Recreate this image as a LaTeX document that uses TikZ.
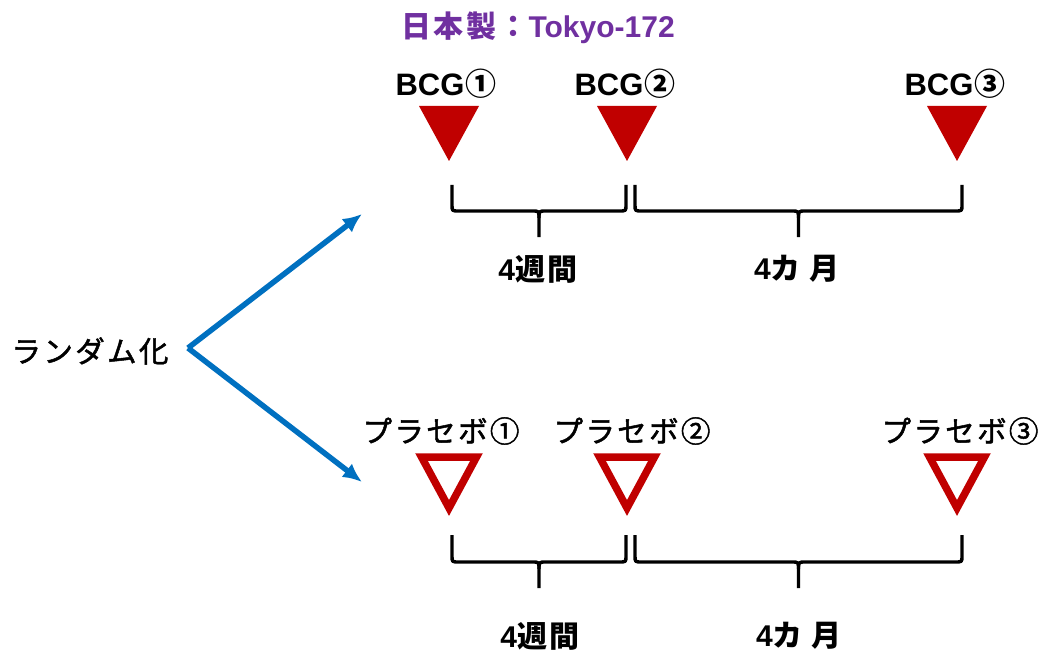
\documentclass[tikz,border=0pt]{standalone}
\usepackage{fontspec}
\usetikzlibrary{arrows.meta}
\setmainfont{Liberation Sans}
\newfontfamily\jp[LetterSpace=8]{Noto Sans CJK JP}
\newfontfamily\jpm[LetterSpace=8,FakeBold=1.6]{Noto Sans CJK JP}
\definecolor{bcgred}{HTML}{C00000}
\definecolor{arrowblue}{HTML}{0070C0}
\definecolor{titlepurple}{HTML}{7030A0}
\newcommand{\mybrace}[5]{% x1, x2, top, h, tip
  \draw[brace] (#1,#3) -- (#1,#4-6) .. controls (#1,#4) .. (#1+7,#4)
    -- ({(#1+#2)/2-7},#4) .. controls ({(#1+#2)/2},#4) .. ({(#1+#2)/2},#4+7) -- ({(#1+#2)/2},#5);
  \draw[brace] ({(#1+#2)/2},#4+7) .. controls ({(#1+#2)/2},#4) .. ({(#1+#2)/2+7},#4)
    -- (#2-7,#4) .. controls (#2,#4) .. (#2,#4-6) -- (#2,#3);
}
\begin{document}
\begin{tikzpicture}[x=1pt,y=-1pt,
  lbl/.style={inner sep=0pt,font=\fontsize{31}{34}\selectfont\bfseries},
  plbl/.style={inner sep=0pt,font=\fontsize{29.5}{34}\selectfont\jpm},
  durlbl/.style={inner sep=0pt,font=\fontsize{30}{34}\selectfont\bfseries},
  brace/.style={line width=3.4pt,black,line join=round},
  solidtri/.style={fill=bcgred,draw=none},
  opentri/.style={draw=bcgred,line width=7.5pt,miter limit=10},
  arr/.style={draw=arrowblue,line width=5.5pt,-{Latex[length=19pt,width=17pt]}}
]
\useasboundingbox (0,0) rectangle (1040,652);
% title
\node[inner sep=0pt,text=titlepurple,font=\fontsize{30}{34}\selectfont\bfseries] (title) at (538,28) {{\jp 日本製：}Tokyo-172};
% randomization
\node[inner sep=0pt,font=\fontsize{29.5}{34}\selectfont\jpm] (rand) at (90,351) {ランダム化};
\coordinate (split) at (188,348);
\coordinate (upend) at (362,214);
\coordinate (downend) at (362,482);
\draw[arr] (split) -- (upend);
\draw[arr] (split) -- (downend);
% BCG labels
\node[lbl] (b1) at (446,84) {BCG\kern1pt{\jp ①}};
\node[lbl] (b2) at (625,84) {BCG\kern1pt{\jp ②}};
\node[lbl] (b3) at (955,84) {BCG\kern1pt{\jp ③}};
% solid triangles
\foreach \n/\x in {1/449,2/627,3/957}{
  \coordinate (st\n) at (\x,106);
  \fill[solidtri] (\x-30,106) -- (\x+30,106) -- (\x,161) -- cycle;
}
% placebo labels
\node[plbl] (p1) at (441,431) {プラセボ①};
\node[plbl] (p2) at (632,431) {プラセボ②};
\node[plbl] (p3) at (960,431) {プラセボ③};
% open triangles
\foreach \n/\x in {1/449,2/627,3/957}{
  \coordinate (ot\n) at (\x,457);
  \draw[opentri] (\x-27.5,457) -- (\x+27.5,457) -- (\x,508) -- cycle;
}
% braces
\mybrace{452}{626}{185}{211}{237}
\mybrace{635}{962}{185}{211}{237}
\mybrace{452}{626}{535}{562}{588}
\mybrace{635}{962}{535}{562}{588}
% durations
\node[durlbl] (d1) at (538,269) {4{\jp 週間}};
\node[durlbl] (d2) at (797,269) {4{\jp カ 月}};
\node[durlbl] (d3) at (540,636) {4{\jp 週間}};
\node[durlbl] (d4) at (799,636) {4{\jp カ 月}};
\end{tikzpicture}
\end{document}
